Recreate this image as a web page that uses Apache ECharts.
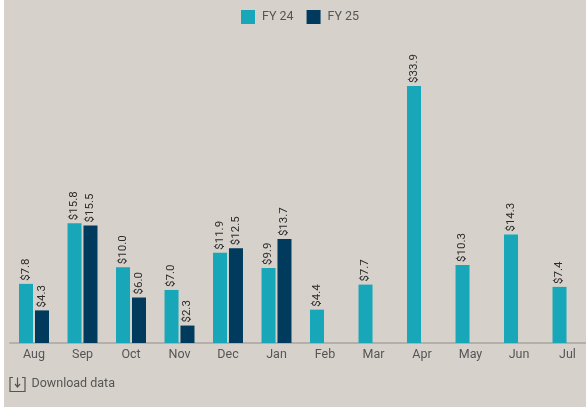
<!DOCTYPE html>
<html><head><meta charset="utf-8">
<style>html,body{margin:0;padding:0;background:#fff;overflow:hidden}
#w{position:absolute;left:4px;top:0;width:582px;height:407px;overflow:hidden}
#c{position:absolute;left:0;top:0;width:600px;height:407px}</style>
<script src="https://cdn.jsdelivr.net/npm/echarts@6/dist/echarts.min.js"></script>
</head><body><div id="w"><div id="c"></div></div>
<script>
const months=['Aug','Sep','Oct','Nov','Dec','Jan','Feb','Mar','Apr','May','Jun','Jul'];
const fy24=[7.8,15.8,10.0,7.0,11.9,9.9,4.4,7.7,33.9,10.3,14.3,7.4];
const fy25=[4.3,15.5,6.0,2.3,12.5,13.7,null,null,null,null,null,null];
const chart=echarts.init(document.getElementById('c'),null,{renderer:'canvas'});
const lab={show:true,position:'top',rotate:90,distance:3,align:'left',verticalAlign:'middle',color:'#2b2b2b',fontFamily:'Roboto',fontSize:11.5,
  formatter:p=>'$'+p.value.toFixed(1)};
chart.setOption({
  backgroundColor:'#d6d2cb',animation:false,
  legend:{top:5,left:232,itemWidth:14,itemHeight:14,itemGap:13,icon:'rect',
    textStyle:{color:'#555',fontFamily:'Roboto',fontSize:12.5,padding:[0,0,0,2]},data:['FY 24','FY 25']},
  grid:{left:5.75,width:582,top:39.7,bottom:64},
  xAxis:{type:'category',data:months,axisTick:{show:false},
    axisLine:{lineStyle:{color:'#a8a59f',width:1.5}},
    axisLabel:{color:'#555',fontFamily:'Roboto',fontSize:12.5,margin:5,interval:0}},
  yAxis:{type:'value',min:0,max:40,show:false,splitLine:{show:false}},
  series:[
    {name:'FY 24',type:'bar',data:fy24,barWidth:14,barGap:'14%',itemStyle:{color:'#17a7b8'},label:lab},
    {name:'FY 25',type:'bar',data:fy25,barWidth:14,itemStyle:{color:'#003a5d'},label:lab}
  ],
  graphic:[
    {type:'group',left:3.5,top:375,children:[
      {type:'polyline',shape:{points:[[3,0],[0,0],[0,14],[15,14],[15,0],[12,0]]},style:{fill:null,stroke:'#555',lineWidth:1.2}},
      {type:'line',shape:{x1:7.5,y1:0,x2:7.5,y2:9},style:{stroke:'#555',lineWidth:1.2}},
      {type:'polyline',shape:{points:[[5,6.5],[7.5,9.5],[10,6.5]]},style:{fill:null,stroke:'#555',lineWidth:1.2}}
    ]},
    {type:'text',left:27.5,top:377,style:{text:'Download data',fill:'#555',font:'12.5px Roboto'}}
  ]
});
</script></body></html>
